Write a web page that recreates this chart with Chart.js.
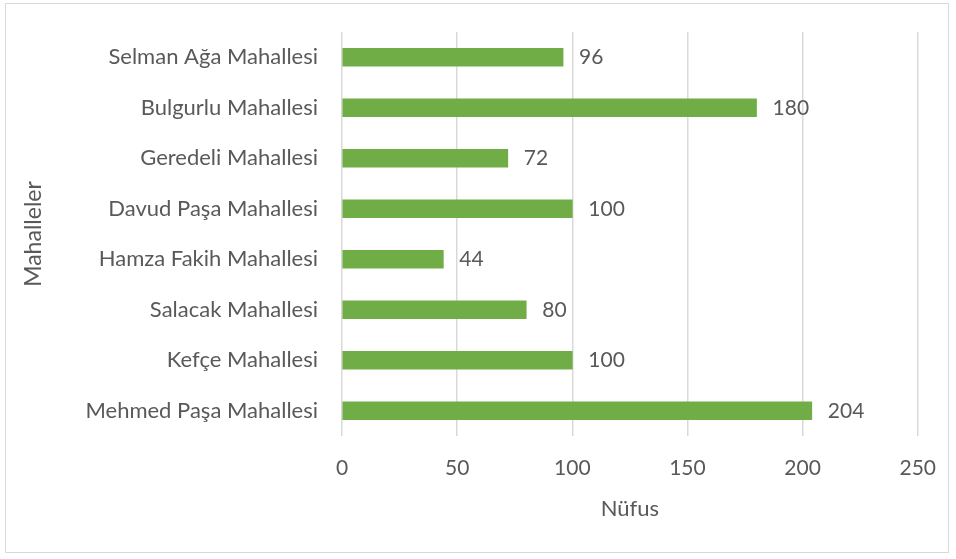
<!DOCTYPE html>
<html>
<head>
<meta charset="utf-8">
<script src="https://cdn.jsdelivr.net/npm/chart.js@4"></script>
<style>
  html, body { margin: 0; padding: 0; background: #fff; }
  #wrap { position: absolute; left: 5px; top: 3px; width: 944px; height: 550px; border: 1px solid #d9d9d9; box-sizing: border-box; }
  #frame { position: absolute; left: 0; top: 0; width: 956px; height: 559px; }
</style>
</head>
<body>
<div id="wrap"></div>
<div id="frame"><canvas id="nufusChart" width="956" height="559"></canvas></div>
<script>
const mahalleler = [
    'Selman Ağa Mahallesi',
    'Bulgurlu Mahallesi',
    'Geredeli Mahallesi',
    'Davud Paşa Mahallesi',
    'Hamza Fakih Mahallesi',
    'Salacak Mahallesi',
    'Kefçe Mahallesi',
    'Mehmed Paşa Mahallesi'
];
const nufus = [96, 180, 72, 100, 44, 80, 100, 204];
const xTicks = [0, 50, 100, 150, 200, 250];

const textColor = '#595959';
const fontFamily = "Lato, 'Open Sans', sans-serif";

// value labels right of each bar
const barLabels = {
    id: 'barLabels',
    afterDatasetsDraw(chart) {
        const ctx = chart.ctx;
        ctx.save();
        ctx.fillStyle = textColor;
        ctx.font = '21px ' + fontFamily;
        ctx.textBaseline = 'middle';
        chart.getDatasetMeta(0).data.forEach((bar, i) => {
            ctx.fillText(nufus[i], bar.x + 16, bar.y);
        });
        ctx.restore();
    }
};

Chart.defaults.font.family = fontFamily;
Chart.defaults.color = textColor;

const nufusChart = new Chart(document.getElementById('nufusChart'), {
    type: 'bar',
    data: {
        labels: mahalleler,
        datasets: [{
            label: 'Nüfus',
            data: nufus,
            backgroundColor: '#70ad47',
            barThickness: 18
        }]
    },
    options: {
        indexAxis: 'y',
        responsive: false,
        animation: false,
        layout: { padding: { left: 20, right: 37, top: 32, bottom: 33 } },
        plugins: {
            legend: { display: false },
            tooltip: { enabled: false }
        },
        scales: {
            x: {
                min: 0,
                max: 250,
                afterBuildTicks: (scale) => { scale.ticks = xTicks.map(v => ({ value: v })); },
                afterFit: (scale) => { scale.height = 90; },
                grid: { color: '#d9d9d9', lineWidth: 1.5, drawTicks: false },
                border: { display: false },
                ticks: { padding: 20, font: { size: 21 }, color: textColor },
                title: { display: true, text: 'Nüfus', font: { size: 22 }, color: textColor, padding: { top: 10 } }
            },
            y: {
                afterFit: (scale) => { scale.width = 322; },
                grid: { display: false },
                border: { display: false },
                ticks: { padding: 16, font: { size: 22 }, color: textColor },
                title: { display: true, text: 'Mahalleler', font: { size: 23 }, color: textColor, padding: 0 }
            }
        }
    },
    plugins: [barLabels]
});
</script>
</body>
</html>
